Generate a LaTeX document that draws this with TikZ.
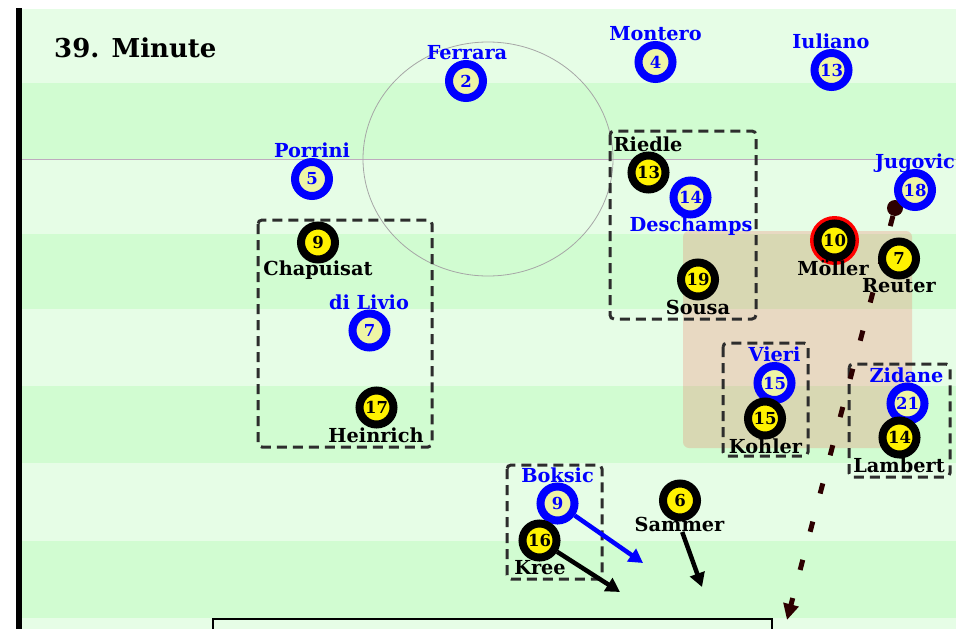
\documentclass[tikz,border=0pt]{standalone}
\usepackage{fontspec}
\setmainfont{DejaVu Serif}
\usetikzlibrary{arrows.meta}
\definecolor{lightg}{RGB}{230,253,230}
\definecolor{darkg}{RGB}{209,252,209}
\definecolor{pale}{RGB}{238,245,165}
\definecolor{myblue}{RGB}{0,0,255}
\definecolor{boxgrey}{RGB}{45,45,45}
\definecolor{dotcol}{RGB}{45,0,0}
\definecolor{zone}{RGB}{240,110,90}
\definecolor{halfline}{RGB}{190,170,190}
\tikzset{
 bp/.style={circle, draw=myblue, line width=8pt, fill=pale, minimum size=34pt, inner sep=0pt, text=myblue, font=\bfseries\fontsize{16.5}{16.5}\selectfont},
 kp/.style={bp, draw=black, fill=yellow, text=black},
 bname/.style={text=myblue, font=\bfseries\fontsize{19.3}{19.3}\selectfont, inner sep=0pt},
 kname/.style={bname, text=black},
 grp/.style={draw=boxgrey, line width=3pt, dash pattern=on 10pt off 6pt, rounded corners=4pt},
 mv/.style={line width=4.5pt, -{Triangle[length=14pt,width=15pt]}},
}
\begin{document}
\begin{tikzpicture}[x=1pt,y=-1pt]
\useasboundingbox (0,0) rectangle (956,629);
\fill[white] (0,0) rectangle (956,629);
\foreach \a/\b/\c in {9/83/lightg,83/159/darkg,159/234/lightg,234/309/darkg,309/386/lightg,386/463/darkg,463/541/lightg,541/618/darkg,618/629/lightg}
  \fill[\c] (22,\a) rectangle (956,\b);
\fill[black] (16,8) rectangle (22,629);
\draw[halfline, line width=0.8pt] (22,159) -- (956,159);
\draw[gray!70, line width=0.8pt] (488,159) ellipse [x radius=125, y radius=117];
\draw[black, line width=1.6pt] (213,640) -- (213,619) -- (772,619) -- (772,640);
\fill[zone, fill opacity=0.25, rounded corners=6pt] (683,231) rectangle (912,448);

% group boxes
\draw[grp] (258,220) rectangle (432,447);
\draw[grp] (610,131) rectangle (756,319);
\draw[grp] (723,343) rectangle (808,456);
\draw[grp] (849,364) rectangle (950,477);
\draw[grp] (507,465) rectangle (602,579);

% title
\node[anchor=west, font=\bfseries\fontsize{26}{26}\selectfont, inner sep=0pt] (title) at (54,48) {39. Minute};

% coordinates for arrow ends
\coordinate (bokto) at (643,563);
\coordinate (kreto) at (620,592);
\coordinate (samto) at (702,587);
\coordinate (dotto) at (787,620);

% dot + dashed run
\node[circle, fill=dotcol, minimum size=16pt, inner sep=0pt] (dot) at (895,208) {};
\draw[dotcol, line width=5pt, dash pattern=on 10.5pt off 29pt, -{Triangle[length=16pt,width=15pt]}] (dot) -- (dotto);

% blue players
\node[bp] (fer) at (466,81) {2};
\node[bname] (ferL) at (467,53) {Ferrara};
\node[bp] (mon) at (655.5,62) {4};
\node[bname] (monL) at (655.5,34) {Montero};
\node[bp] (iul) at (831.5,70) {13};
\node[bname] (iulL) at (831,41) {Iuliano};
\node[bp] (por) at (312,179) {5};
\node[bname] (porL) at (312,150) {Porrini};
\node[bp] (jug) at (915,190) {18};
\node[bname] (jugL) at (915,163) {Jugovic};
\node[bp] (des) at (690.5,197.5) {14};
\node[bname] (desL) at (691,226) {Deschamps};
\node[bp] (liv) at (369.5,330.5) {7};
\node[bname] (livL) at (369,302) {di Livio};
\node[bp] (vie) at (774.5,383) {15};
\node[bname] (vieL) at (774.5,354) {Vieri};
\node[bp] (zid) at (907.5,403.5) {21};
\node[bname] (zidL) at (906.5,375) {Zidane};

% black players
\node[kp] (rie) at (648.5,172.5) {13};
\node[kname] (rieL) at (648,144) {Riedle};
\node[kp] (cha) at (318,242.5) {9};
\node[kname] (chaL) at (318,270) {Chapuisat};
\node[kp] (hei) at (376.5,407.5) {17};
\node[kname] (heiL) at (376,435) {Heinrich};
\node[kp] (sou) at (698,279.5) {19};
\node[kname] (souL) at (698,307) {Sousa};
\node[circle, fill=red, minimum size=49pt, inner sep=0pt] (molring) at (834.5,240.5) {};
\node[kp] (mol) at (834.5,240.5) {10};
\node[kname] (molL) at (833,268) {Möller};
\node[kp] (reu) at (899,258.5) {7};
\node[kname] (reuL) at (899,286) {Reuter};
\node[kp] (koh) at (765,418.5) {15};
\node[kname] (kohL) at (765.5,446) {Kohler};
\node[kp] (lam) at (899.5,437.5) {14};
\node[kname] (lamL) at (899,465.5) {Lambert};
\node[kp] (sam) at (680,500.5) {6};
\node[kname] (samL) at (679.5,524.5) {Sammer};

% Boksic / Kree
\node[bp] (bok) at (557.5,503.5) {9};
\node[bname] (bokL) at (557.5,475) {Boksic};
\node[kp] (kre) at (539.5,540.5) {16};
\node[kname] (kreL) at (540,567.5) {Kree};

% movement arrows
\draw[mv, myblue] (bok) -- (bokto);
\draw[mv, black] (kre) -- (kreto);
\draw[mv, black] (samL) -- (samto);
\end{tikzpicture}
\end{document}
